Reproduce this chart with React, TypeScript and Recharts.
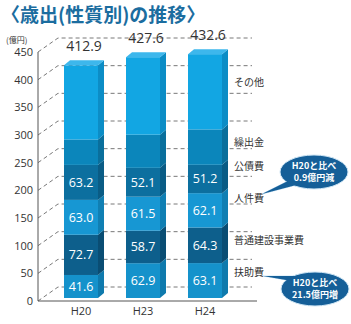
import { BarChart, Bar, XAxis, YAxis, CartesianGrid, LabelList } from 'recharts';

const YEARS = ['H20', 'H23', 'H24'];
const FUJO = [41.6, 62.9, 63.1];        // 扶助費
const KENSETSU = [72.7, 58.7, 64.3];    // 普通建設事業費
const JINKEN = [63.0, 61.5, 62.1];      // 人件費
const KOSAI = [63.2, 52.1, 51.2];       // 公債費
const KURIDASHI = [46, 60, 64];         // 繰出金 (no label in source)
const SONOTA = [134, 140, 136];         // その他
const TOTALS = ['412.9', '427.6', '432.6'];
const Y_TICKS = [0, 50, 100, 150, 200, 250, 300, 350, 400, 450];

const data = YEARS.map((year, i) => ({
  year,
  fujo: FUJO[i],
  kensetsu: KENSETSU[i],
  jinken: JINKEN[i],
  kosai: KOSAI[i],
  kuridashi: KURIDASHI[i],
  sonota: SONOTA[i],
  total: TOTALS[i],
}));

const SERIES = [
  { key: 'fujo', name: '扶助費', front: '#1592cb', side: '#0f7aad', showValue: true, nameDy: -8 },
  { key: 'kensetsu', name: '普通建設事業費', front: '#0d5f8c', side: '#0a4d73', showValue: true, nameDy: -5 },
  { key: 'jinken', name: '人件費', front: '#1797d3', side: '#107fb3', showValue: true, nameDy: -12 },
  { key: 'kosai', name: '公債費', front: '#0c6f9f', side: '#0a5c85', showValue: true, nameDy: -13 },
  { key: 'kuridashi', name: '繰出金', front: '#0b86bb', side: '#0a6f9c', showValue: false, nameDy: -5 },
  { key: 'sonota', name: 'その他', front: '#12a6e3', side: '#0c8dc6', showValue: false, nameDy: -9 },
];

const DX = 6;
const DY = 5;
const LIFT = 3;
const FONT = '"Open Sans", "Noto Sans CJK JP", sans-serif';
const JP = '"Noto Sans CJK JP", sans-serif';

function makeShape(front: string, side: string, hasTop: boolean) {
  return (p: any) => {
    const { x, y, width: w, height: h } = p;
    const yy = y - LIFT;
    return (
      <g>
        <rect x={x} y={yy} width={w} height={h} fill={front} />
        <path d={`M${x + w},${yy} L${x + w + DX},${yy - DY} L${x + w + DX},${yy + h - DY} L${x + w},${yy + h} Z`} fill={side} />
        {hasTop && (
          <path d={`M${x},${yy} L${x + DX},${yy - DY} L${x + w + DX},${yy - DY} L${x + w},${yy} Z`} fill="#3db7ec" />
        )}
      </g>
    );
  };
}

function box(p: any) {
  const vb = p.viewBox && p.viewBox.width !== undefined ? p.viewBox : p;
  return { x: Number(vb.x), y: Number(vb.y), w: Number(vb.width), h: Number(vb.height) };
}

const valueLabel = (p: any) => {
  const { x, y, w, h } = box(p);
  return (
    <text x={x + w / 2} y={y - LIFT + h / 2} dy="0.36em" textAnchor="middle" fill="#fff" fontSize={12.5} fontFamily={FONT}>
      {Number(p.value).toFixed(1)}
    </text>
  );
};

const totalLabel = (p: any) => {
  const { x, y, w } = box(p);
  return (
    <text x={x + w / 2 + 3} y={y - LIFT - 19} dy="0.36em" textAnchor="middle" fill="#333" fontSize={14} fontFamily={FONT}>
      {p.value}
    </text>
  );
};

const nameLabel = (name: string, dyOff: number) => (p: any) => {
  if (p.index !== YEARS.length - 1) return null;
  const { x, y, w, h } = box(p);
  return (
    <text x={x + w + 12} y={y - LIFT + h / 2 + dyOff} dy="0.36em" fill="#333" fontSize={10} fontFamily={JP}>
      {name}
    </text>
  );
};

const gridLine = (p: any) => {
  const { x1, y1, key } = p;
  return (
    <path
      key={key}
      d={`M${x1},${y1} L${x1 + 20},${y1 - 14} L252,${y1 - 14}`}
      fill="none"
      stroke="#555"
      strokeWidth={0.8}
      strokeDasharray="4 3"
    />
  );
};

function Bubble({ cx, cy, tail, lines }: { cx: number; cy: number; tail: string; lines: string[] }) {
  return (
    <g>
      <path d={tail} fill="#155f98" stroke="#cfe6f5" strokeWidth={1} />
      <ellipse cx={cx} cy={cy} rx={34} ry={17} fill="#155f98" stroke="#cfe6f5" strokeWidth={1} />
      <path d={tail} fill="#155f98" />
      {lines.map((l, i) => (
        <text key={i} x={cx} y={cy - 6 + i * 12} dy="0.36em" textAnchor="middle" fill="#fff" fontSize={9} fontWeight={700} fontFamily={JP}>
          {l}
        </text>
      ))}
    </g>
  );
}

export default function App() {
  return (
    <div style={{ position: 'absolute', left: 0, top: 0, width: 351, height: 324, background: '#fff' }}>
      <div style={{ position: 'absolute', left: 1, top: 3, fontSize: 19, fontWeight: 700, color: '#1b6d9f', fontFamily: JP, lineHeight: '22px', whiteSpace: 'nowrap' }}>
        〈歳出(性質別)の推移〉
      </div>
      <div style={{ position: 'absolute', left: 6, top: 34, fontSize: 8, color: '#333', fontFamily: JP }}>(億円)</div>
      <BarChart width={351} height={324} data={data} margin={{ top: 52, right: 94, bottom: 3, left: 0 }} barSize={34}>
        <CartesianGrid vertical={false} horizontal={gridLine} />
        <XAxis
          dataKey="year"
          axisLine={{ stroke: '#555' }}
          tickLine={false}
          tickSize={4}
          tickMargin={2}
          height={20}
          padding={{ left: 12, right: 21 }}
          tick={{ fontSize: 11, fill: '#333', fontFamily: FONT }}
        />
        <YAxis
          domain={[0, 450]}
          ticks={Y_TICKS}
          width={38}
          axisLine={{ stroke: '#555' }}
          tickLine={false}
          tickSize={3}
          tickMargin={2}
          tick={{ fontSize: 11, fill: '#333', fontFamily: FONT }}
        />
        {SERIES.map((s, i) => (
          <Bar
            key={s.key}
            dataKey={s.key}
            name={s.name}
            stackId="a"
            fill={s.front}
            isAnimationActive={false}
            shape={makeShape(s.front, s.side, i === SERIES.length - 1)}
          >
            {s.showValue && <LabelList dataKey={s.key} content={valueLabel} />}
            {i === SERIES.length - 1 && <LabelList dataKey="total" content={totalLabel} />}
            <LabelList dataKey={s.key} content={nameLabel(s.name, s.nameDy)} />
          </Bar>
        ))}
      </BarChart>
      <svg width={351} height={324} style={{ position: 'absolute', left: 0, top: 0, pointerEvents: 'none' }}>
        <Bubble cx={314} cy={172} tail="M290,180 L262,194 L300,184 Z" lines={['H20と比べ', '0.9億円減']} />
        <Bubble cx={315} cy={289} tail="M292,281 L263,276 L298,276 Z" lines={['H20と比べ', '21.5億円増']} />
      </svg>
    </div>
  );
}
